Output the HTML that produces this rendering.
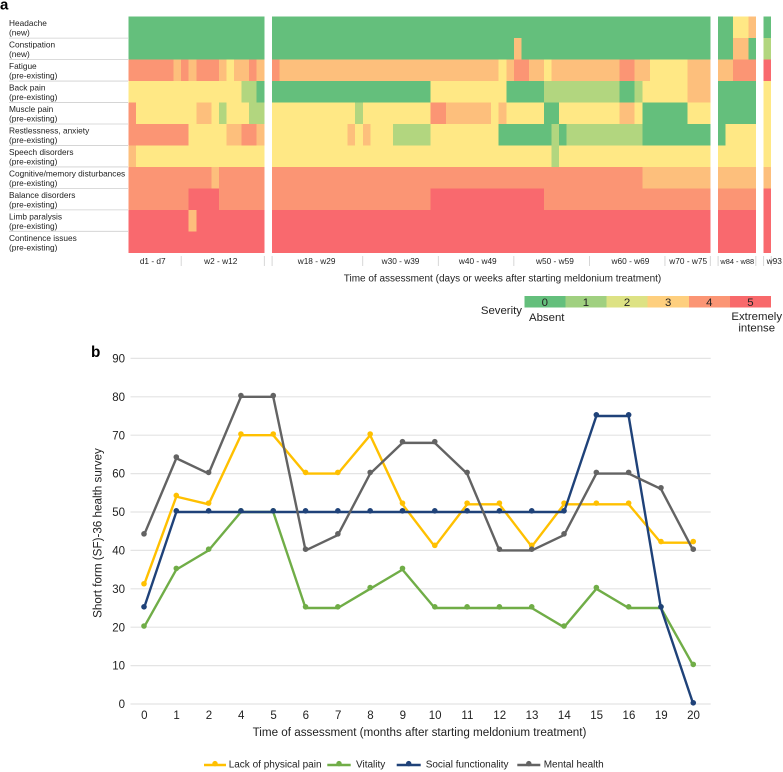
<!DOCTYPE html>
<html lang="en">
<head>
<meta charset="utf-8">
<title>Symptom severity and SF-36 survey</title>
<style>
html,body{margin:0;padding:0;background:#fff;}
svg{display:block;font-family:"Liberation Sans",Arial,sans-serif;fill:#222;}
</style>
</head>
<body>
<svg id="fig" xmlns="http://www.w3.org/2000/svg" width="783" height="772" viewBox="0 0 783 772">
<text x="0" y="9.5" font-size="15" font-weight="bold" fill="#000">a</text>
<text x="91" y="356.8" font-size="15.3" font-weight="bold" fill="#000">b</text>
<g id="heat"></g>
<text x="502.5" y="281.5" font-size="10" text-anchor="middle">Time of assessment (days or weeks after starting meldonium treatment)</text>
<g id="sev">
<text x="522" y="314" font-size="11.4" text-anchor="end">Severity</text>
<text x="529" y="321" font-size="11.4">Absent</text>
<text x="756.7" y="320" font-size="11.4" text-anchor="middle">Extremely</text>
<text x="756.7" y="331.5" font-size="11.4" text-anchor="middle">intense</text>
</g>
<g id="line"></g>
<text transform="translate(101.5 533) rotate(-90)" font-size="11.67" text-anchor="middle">Short form (SF)-36 health survey</text>
<text x="419.5" y="735.8" font-size="11.67" text-anchor="middle">Time of assessment (months after starting meldonium treatment)</text>
<g id="leg"></g>
</svg>
<script>
/* ---------- Heatmap data ---------- */
const symptomNames = ['Headache','Constipation','Fatigue','Back pain','Muscle pain','Restlessness, anxiety','Speech disorders','Cognitive/memory disturbances','Balance disorders','Limb paralysis','Continence issues'];
const symptomKinds = ['(new)','(new)','(pre-existing)','(pre-existing)','(pre-existing)','(pre-existing)','(pre-existing)','(pre-existing)','(pre-existing)','(pre-existing)','(pre-existing)'];
const blockSizes = [18,58,5,1];
const periodLabels = ['d1 - d7','w2 - w12','w18 - w29','w30 - w39','w40 - w49','w50 - w59','w60 - w69','w70 - w75','w84 - w88','w93'];
const periodStartCols = [0,7,18,30,40,50,60,70,76,81];
const severityLabels = ['0','1','2','3','4','5'];
const headache = [0,0,0,0,0,0,0,0,0,0,0,0,0,0,0,0,0,0,
 0,0,0,0,0,0,0,0,0,0,0,0,0,0,0,0,0,0,0,0,0,0,0,0,0,0,0,0,0,0,0,0,0,0,0,0,0,0,0,0,0,0,0,0,0,0,0,0,0,0,0,0,0,0,0,0,0,0,
 0,0,2,2,3,
 0];
const constipation = [0,0,0,0,0,0,0,0,0,0,0,0,0,0,0,0,0,0,
 0,0,0,0,0,0,0,0,0,0,0,0,0,0,0,0,0,0,0,0,0,0,0,0,0,0,0,0,0,0,0,0,3,0,0,0,0,0,0,0,0,0,0,0,0,0,0,0,0,0,0,0,0,0,0,0,0,0,
 0,0,3,3,0,
 1];
const fatigue = [4,4,4,4,4,4,3,4,3,4,4,4,3,2,3,3,4,3,
 4,3,3,3,3,3,3,3,3,3,3,3,3,3,3,3,3,3,3,3,3,3,3,3,3,3,3,3,3,3,2,3,4,4,3,3,2,3,3,3,3,3,3,3,3,3,4,4,3,3,2,2,2,2,2,3,3,3,
 3,3,4,4,4,
 5];
const backPain = [2,2,2,2,2,2,2,2,2,2,2,2,2,2,2,1,1,0,
 0,0,0,0,0,0,0,0,0,0,0,0,0,0,0,0,0,0,0,0,0,2,2,2,2,2,2,2,2,2,2,0,0,0,0,0,1,1,1,1,1,1,1,1,1,1,0,0,1,2,2,2,2,2,2,3,3,3,
 0,0,0,0,0,
 2];
const musclePain = [4,2,2,2,2,2,2,2,2,3,3,2,1,2,2,2,1,1,
 2,2,2,2,2,2,2,2,2,2,2,1,2,2,2,2,2,2,2,2,2,4,4,3,3,3,3,3,3,2,3,2,2,2,2,2,0,0,2,2,2,2,2,2,2,2,3,3,2,0,0,0,0,0,0,2,2,2,
 0,0,0,0,0,
 2];
const restlessness = [4,4,4,4,4,4,4,4,2,2,2,2,2,3,3,4,4,3,
 2,2,2,2,2,2,2,2,2,2,3,2,3,2,2,2,1,1,1,1,1,2,2,2,2,2,2,2,2,2,0,0,0,0,0,0,0,1,0,1,1,1,1,1,1,1,1,1,1,0,0,0,0,0,0,0,0,0,
 0,2,2,2,2,
 2];
const speech = [3,2,2,2,2,2,2,2,2,2,2,2,2,2,2,2,2,2,
 2,2,2,2,2,2,2,2,2,2,2,2,2,2,2,2,2,2,2,2,2,2,2,2,2,2,2,2,2,2,2,2,2,2,2,2,2,1,2,2,2,2,2,2,2,2,2,2,2,2,2,2,2,2,2,2,2,2,
 2,2,2,2,2,
 2];
const cognitive = [4,4,4,4,4,4,4,4,4,4,4,3,4,4,4,4,4,4,
 4,4,4,4,4,4,4,4,4,4,4,4,4,4,4,4,4,4,4,4,4,4,4,4,4,4,4,4,4,4,4,4,4,4,4,4,4,4,4,4,4,4,4,4,4,4,4,4,4,3,3,3,3,3,3,3,3,3,
 3,3,3,3,3,
 3];
const balance = [4,4,4,4,4,4,4,4,5,5,5,5,4,4,4,4,4,4,
 4,4,4,4,4,4,4,4,4,4,4,4,4,4,4,4,4,4,4,4,4,5,5,5,5,5,5,5,5,5,5,5,5,5,5,5,4,4,4,4,4,4,4,4,4,4,4,4,4,4,4,4,4,4,4,4,4,4,
 4,4,4,4,4,
 5];
const limb = [5,5,5,5,5,5,5,5,3,5,5,5,5,5,5,5,5,5,
 5,5,5,5,5,5,5,5,5,5,5,5,5,5,5,5,5,5,5,5,5,5,5,5,5,5,5,5,5,5,5,5,5,5,5,5,5,5,5,5,5,5,5,5,5,5,5,5,5,5,5,5,5,5,5,5,5,5,
 5,5,5,5,5,
 5];
const continence = [5,5,5,5,5,5,5,5,5,5,5,5,5,5,5,5,5,5,
 5,5,5,5,5,5,5,5,5,5,5,5,5,5,5,5,5,5,5,5,5,5,5,5,5,5,5,5,5,5,5,5,5,5,5,5,5,5,5,5,5,5,5,5,5,5,5,5,5,5,5,5,5,5,5,5,5,5,
 5,5,5,5,5,
 5];
const heatRows = [headache,constipation,fatigue,backPain,musclePain,restlessness,speech,cognitive,balance,limb,continence];

/* ---------- Line chart data ---------- */
const months = ['0','1','2','4','5','6','7','8','9','10','11','12','13','14','15','16','19','20'];
const yTicks = [0,10,20,30,40,50,60,70,80,90];
const lackOfPain = [31,54,52,70,70,60,60,70,52,41,52,52,41,52,52,52,42,42];
const vitality = [20,35,40,50,50,25,25,30,35,25,25,25,25,20,30,25,25,10];
const socialFunction = [25,50,50,50,50,50,50,50,50,50,50,50,50,50,75,75,25,0];
const mentalHealth = [44,64,60,80,80,40,44,60,68,68,60,40,40,44,60,60,56,40];
const seriesNames = ['Lack of physical pain','Vitality','Social functionality','Mental health'];
const seriesValues = [lackOfPain,vitality,socialFunction,mentalHealth];

/* ---------- Styling ---------- */
const heatColors = ['#64bf7c','#b2d67f','#ffe885','#fdbf7c','#fb9574','#f9696e'];
const scaleColors = ['#64bf7c','#a0d080','#dde284','#fecf7e','#fb9574','#f8696b'];
const lineColors = ['#ffc000','#70ad47','#1f4279','#636363'];

const NS = 'http://www.w3.org/2000/svg';
function mk(tag, attrs, parent, txt){
  const el = document.createElementNS(NS, tag);
  for (const k in attrs) el.setAttribute(k, attrs[k]);
  if (txt !== undefined) el.textContent = txt;
  parent.appendChild(el);
  return el;
}
function slug(s){ return s.toLowerCase().replace(/[^a-z0-9]+/g,'-').replace(/^-|-$/g,''); }

/* ---------- Heatmap ---------- */
const heat = document.getElementById('heat');
const cellW = 7.555, blockGap = 7.8, heatLeft = 128.3, heatTop = 16.7, rowH = 21.46;
function colX(i){
  let x = heatLeft, n = i;
  for (let b = 0; b < blockSizes.length; b++){
    if (n < blockSizes[b]) return x + n * cellW;
    x += blockSizes[b] * cellW + blockGap;
    n -= blockSizes[b];
  }
  return x - blockGap;
}
function rowY(r){ return heatTop + r * rowH; }

heatRows.forEach(function(vals, r){
  const name = slug(symptomNames[r]);
  vals.forEach(function(v, c){
    const cell = mk('rect', {x:colX(c), y:rowY(r), width:cellW, height:rowH, fill:heatColors[v], 'shape-rendering':'crispEdges'}, heat);
    
    
  });
  const t1 = mk('text', {x:9, y:rowY(r)+9.5, 'font-size':8.3}, heat, symptomNames[r]);
  
  
  const t2 = mk('text', {x:9, y:rowY(r)+19, 'font-size':8.3}, heat, symptomKinds[r]);
  
  
  if (r < heatRows.length - 1){
    const sep = mk('line', {x1:9, x2:128, y1:rowY(r+1), y2:rowY(r+1), stroke:'#cfcfcf', 'stroke-width':0.8}, heat);
    
    
  }
});

/* Period axis: ticks come from the first column of each period and block edges */
function addPeriodTick(x){
  const tk = mk('line', {x1:x, x2:x, y1:256, y2:266, stroke:'#cccccc', 'stroke-width':0.8}, heat);
  
  
}
const labelNudge = [-2,-2,-0.8,0,1.7,3.3,3.3,0.6,0.3,6.8];
periodLabels.forEach(function(lab, i){
  const start = periodStartCols[i];
  const end = i + 1 < periodStartCols.length ? periodStartCols[i+1] : heatRows[0].length;
  const x0 = colX(start);
  const x1 = colX(end - 1) + cellW;
  if (i > 0) addPeriodTick(x0);
  if (blockSizes.reduce(function(acc, b, k){ return acc.concat((acc[k-1] || 0) + b); }, []).indexOf(end) >= 0) addPeriodTick(x1);
  const t = mk('text', {x:(x0+x1)/2 + labelNudge[i], y:264, 'font-size':(lab === 'w84 - w88' ? 7.4 : 8.3), 'text-anchor':'middle'}, heat, lab);
  
  
});

/* Severity scale */
const sev = document.getElementById('sev');
const sevW = (771 - 524.3) / severityLabels.length;
severityLabels.forEach(function(lab, i){
  const r = mk('rect', {x:524.3 + i*sevW, y:296, width:sevW, height:11.7, fill:scaleColors[i], 'shape-rendering':'crispEdges'}, sev);
  
  
  const t = mk('text', {x:524.3 + (i+0.5)*sevW, y:306, 'font-size':11.4, 'text-anchor':'middle'}, sev, lab);
  
  
});

/* ---------- Line chart ---------- */
const line = document.getElementById('line');
function xPos(i){ return 144 + i * 32.31; }
function yPos(v){ return 704 - v * 3.84; }

yTicks.forEach(function(v){
  const g = mk('line', {x1:130.5, x2:710.7, y1:yPos(v), y2:yPos(v), stroke:'#e4e4e4', 'stroke-width':1.2}, line);
  
  
  const t = mk('text', {x:125, y:yPos(v)+4.1, 'font-size':11.5, 'text-anchor':'end'}, line, String(v));
  
  
});
months.forEach(function(m, i){
  const t = mk('text', {x:xPos(i)+0.3, y:718.8, 'font-size':11.5, 'text-anchor':'middle'}, line, m);
  
  
});
seriesValues.forEach(function(vals, s){
  const name = slug(seriesNames[s]);
  const pts = vals.map(function(v, i){ return xPos(i).toFixed(2) + ',' + yPos(v).toFixed(2); }).join(' ');
  const pl = mk('polyline', {points:pts, fill:'none', stroke:lineColors[s], 'stroke-width':2.4, 'stroke-linejoin':'round', 'stroke-linecap':'round'}, line);
  
  
  vals.forEach(function(v, i){
    const c = mk('circle', {cx:xPos(i), cy:yPos(v)-1.2, r:2.8, fill:lineColors[s]}, line);
    
    
  });
});

/* Legend */
const leg = document.getElementById('leg');
const keySpans = [[204,226,228.7],[327.3,350.7,356],[396.7,420.7,425.7],[517.3,540.3,543.7]];
seriesNames.forEach(function(n, s){
  const name = slug(n);
  const sp = keySpans[s];
  const kl = mk('line', {x1:sp[0], x2:sp[1], y1:765, y2:765, stroke:lineColors[s], 'stroke-width':2.4}, leg);
  
  
  const kc = mk('circle', {cx:(sp[0]+sp[1])/2, cy:763.6, r:2.7, fill:lineColors[s]}, leg);
  
  
  const kt = mk('text', {x:sp[2], y:767.6, 'font-size':10}, leg, n);
  
  
});
</script>
</body>
</html>
